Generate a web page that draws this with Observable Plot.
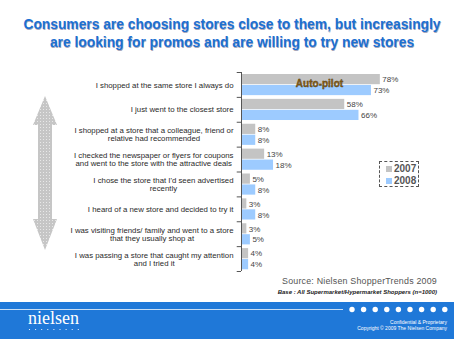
<!DOCTYPE html>
<html><head><meta charset="utf-8">
<script src="https://cdn.jsdelivr.net/npm/d3@7"></script>
<script src="https://cdn.jsdelivr.net/npm/@observablehq/plot@0.6"></script>
<style>
body{margin:0;background:#fff;font-family:"Liberation Sans",Arial,sans-serif;}
#slide{position:relative;width:454px;height:339px;overflow:hidden;background:#fff;}
#title{position:absolute;left:8px;top:16px;width:448px;text-align:center;font-size:13.8px;font-weight:bold;line-height:18px;color:#1c70d2;text-shadow:0.6px 0.6px 0.6px rgba(0,0,60,0.35);white-space:nowrap;}
#chart{position:absolute;left:0;top:0;}
#arrow{position:absolute;left:0;top:0;}
#legend{position:absolute;left:379px;top:161px;width:40px;height:26px;border:1px dashed #555;box-sizing:border-box;font-size:10px;font-weight:bold;color:#555;padding:1px 0 0 6px;line-height:11.5px;}
#legend .sw{display:inline-block;width:6px;height:6px;margin-right:2px;vertical-align:0px;}
#source{position:absolute;right:17px;top:276px;text-align:right;color:#555;font-size:8.9px;line-height:10px;letter-spacing:0.2px;}
#base{font-size:6px;font-style:italic;font-weight:bold;color:#222;letter-spacing:0;}
#footer{position:absolute;left:0;top:302px;width:454px;height:37px;background:#1f78d8;}
#err{position:absolute;left:0;top:60px;font-size:8px;color:red;}
</style></head><body>
<div id="slide">
  <div id="title">Consumers are choosing stores close to them, but increasingly<br>are looking for promos and are willing to try new stores</div>
  <svg id="arrow" width="454" height="339">
    <defs>
      <pattern id="stip" width="3" height="3" patternUnits="userSpaceOnUse">
        <rect width="3" height="3" fill="#c6c6c6"/>
        <rect x="1" y="1" width="1" height="1" fill="#e8e8e8"/>
      </pattern>
    </defs>
    <polygon points="45,96 57,125 52,125 52,219 57,219 45,250 33,219 38,219 38,125 33,125" fill="url(#stip)"/>
  </svg>
  <div id="chart"></div>
  <div id="legend"></div>
  <div id="source">Source: Nielsen ShopperTrends 2009<br><span id="base">Base : All Supermarket/Hypermarket Shoppers (n=1000)</span></div>
  <div id="footer">
    <svg width="454" height="37">
      <line x1="0" x2="343" y1="7.5" y2="7.5" stroke="#ffffff" stroke-opacity="0.75" stroke-width="1"/>
      <g id="fdots"></g>
      <text x="28" y="22" fill="#fff" font-family="Liberation Serif, DejaVu Serif, serif" font-size="18">nielsen</text>
      <g id="ndots"></g>
      <text x="447" y="22" text-anchor="end" fill="#fff" font-size="5" font-family="Liberation Sans, Arial, sans-serif">Confidential &amp; Proprietary</text>
      <text x="447" y="28" text-anchor="end" fill="#fff" font-size="5" font-family="Liberation Sans, Arial, sans-serif">Copyright © 2009 The Nielsen Company</text>
    </svg>
  </div>
  <div id="err"></div>
</div>
<script>
const categories = [
  "I shopped at the same store I always do",
  "I just went to the closest store",
  "I shopped at a store that a colleague, friend or\nrelative had recommended",
  "I checked the newspaper or flyers for coupons\nand went to the store with the attractive deals",
  "I chose the store that I'd seen advertised\nrecently",
  "I heard of a new store and decided to try it",
  "I was visiting friends/ family and went to a store\nthat they usually shop at",
  "I was passing a store that caught my attention\nand I tried it"
];
const years = ["2007", "2008"];
const values2007 = [78, 58, 8, 13, 5, 3, 3, 4];
const values2008 = [73, 66, 8, 18, 8, 8, 5, 4];
const colors = ["#c4c4c4", "#9dcbff"];
const annotationText = "Auto-pilot";

try {
const W = 454, H = 276, ML = 241, MR = 35, MT = 72, MB = 5;
const k = (W - ML - MR) / 100;
const labelSize = 7.8;

const ctx = document.createElement("canvas").getContext("2d");
ctx.font = labelSize + "px 'Liberation Sans'";
const rows = categories.map((c, i) => {
  const w = d3.max(c.split("\n"), s => ctx.measureText(s).width);
  return {c, i, v7: values2007[i], v8: values2008[i], lx: -(8 + w / 2) / k};
});
const bounds = d3.range(categories.length + 1);

const chart = Plot.plot({
  width: W, height: H,
  marginLeft: ML, marginRight: MR, marginTop: MT, marginBottom: MB,
  style: {background: "transparent", fontFamily: "Liberation Sans, Arial, sans-serif"},
  x: {type: "linear", domain: [0, 100], axis: null},
  y: {type: "linear", domain: [0, categories.length], reverse: true, axis: null},
  marks: [
    Plot.rect(rows, {x1: () => 0, x2: "v7", y1: d => d.i + 0.08, y2: d => d.i + 0.49, fill: colors[0]}),
    Plot.rect(rows, {x1: () => 0, x2: "v8", y1: d => d.i + 0.52, y2: d => d.i + 0.93, fill: colors[1]}),
    Plot.text(rows, {x: "v7", y: d => d.i + 0.29, text: d => d.v7 + "%", dx: 2, textAnchor: "start", fontSize: 8, fill: "#444"}),
    Plot.text(rows, {x: "v8", y: d => d.i + 0.73, text: d => d.v8 + "%", dx: 2, textAnchor: "start", fontSize: 8, fill: "#444"}),
    Plot.text(rows.slice(0, 1), {x: d => d.v8 * 0.6, y: d => d.i + 0.45, text: () => annotationText, fontSize: 10, fontWeight: "bold", fill: "#7a5512", stroke: "#3a2a08", strokeWidth: 0.35}),
    Plot.text(rows, {x: "lx", y: d => d.i + 0.5, text: "c", textAnchor: "middle", fontSize: labelSize, lineHeight: 1.04, fill: "#2a2a2a"}),
    Plot.ruleX([0], {stroke: "#555"}),
    Plot.ruleY(bounds, {y: d => d, x1: () => -2.4, x2: () => 0, stroke: "#555"})
  ]
});
document.getElementById("chart").appendChild(chart);
} catch (e) { document.getElementById("err").textContent = String(e); }

const leg = document.getElementById("legend");
leg.innerHTML = years.map((y, j) => `<div><span class="sw" style="background:${colors[j]}"></span>${y}</div>`).join("");

const fd = document.getElementById("fdots");
for (let j = 0; j < 9; j++) {
  const c = document.createElementNS("http://www.w3.org/2000/svg", "circle");
  c.setAttribute("cx", 352 + j * 11.6); c.setAttribute("cy", 7.5); c.setAttribute("r", 2.7); c.setAttribute("fill", "#fff");
  fd.appendChild(c);
}
const nd = document.getElementById("ndots");
for (let j = 0; j < 9; j++) {
  const c = document.createElementNS("http://www.w3.org/2000/svg", "circle");
  c.setAttribute("cx", 29.5 + j * 6.1); c.setAttribute("cy", 27.5); c.setAttribute("r", 0.6); c.setAttribute("fill", "#fff");
  nd.appendChild(c);
}
</script>
</body></html>
